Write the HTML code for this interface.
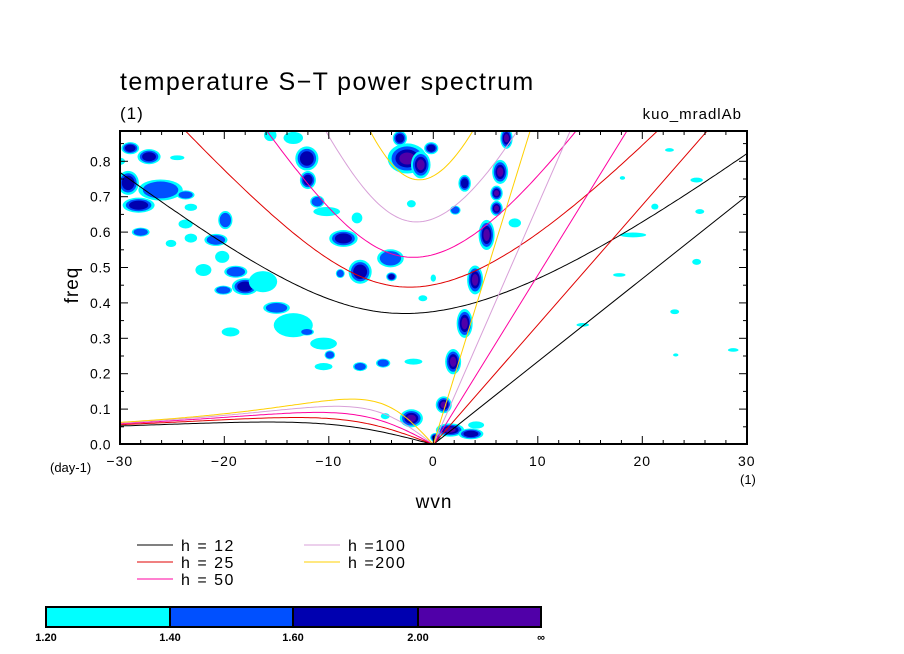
<!DOCTYPE html>
<html><head><meta charset="utf-8"><style>
body{margin:0;background:#fff;}
svg{display:block;font-family:"Liberation Sans",sans-serif;}
</style></head><body>
<svg id="c" width="904" height="654" viewBox="0 0 904 654">
<defs><clipPath id="pc"><rect x="120" y="131" width="627" height="313"/></clipPath></defs>
<text x="120" y="90" font-size="25" letter-spacing="1.4">temperature S−T power spectrum</text>
<text x="120" y="119" font-size="17" letter-spacing="1">(1)</text>
<text x="742" y="119" font-size="15" letter-spacing="1" text-anchor="end">kuo_mradlAb</text>
<g id="blobs" clip-path="url(#pc)"></g>
<g id="curves" clip-path="url(#pc)"></g>
<g id="axes"></g>
<rect x="120" y="131" width="627" height="313" fill="none" stroke="#000" stroke-width="2"/>
<text x="78" y="285" font-size="19" letter-spacing="1" transform="rotate(-90 78 285)" text-anchor="middle">freq</text>
<text x="434" y="508" font-size="19" letter-spacing="1" text-anchor="middle">wvn</text>
<text x="50" y="472" font-size="13">(day-1)</text>
<text x="740" y="484" font-size="13">(1)</text>
<g id="legend"></g>
<g id="cbar"></g>
</svg>
<script>
const NS="http://www.w3.org/2000/svg";
const depths=[12,25,50,100,200];
const depthColors=["#000000","#e00000","#ff00a0","#d8a0d8","#ffd000"];
const xTicks=[-30,-20,-10,0,10,20,30];
const yTicks=[0,0.1,0.2,0.3,0.4,0.5,0.6,0.7,0.8];
const levels=["1.20","1.40","1.60","2.00","∞"];
const levelColors=["#00ffff","#0050ff","#0000b0","#5000a8"];
// blobs: wavenumber, frequency, radius (wvn), radius (freq), level 1..4
const blobW=[-29,-27.2,-24.5,-30,-29.2,-26.1,-28.2,-23.7,-23.2,-28,-19.9,-23.7,-23.2,-20.8,-25.1,-22,-20.2,-18.9,-18,-20.1,-16.3,-15,-13.4,-12.1,-19.4,-10.5,-9.9,-10.5,-7,-4.8,-1.9,-12,-11.1,-10.2,-12.1,-13.4,-15.6,-8.6,-7.3,-7,-8.9,-4.1,-4,-2.5,-3.2,-0.2,-2.1,-1,-2.1,-4.6,-1.2,
 7.0,6.4,3.0,6.05,6.05,2.1,5.1,4.0,3.0,1.9,1.0,1.6,3.6,4.1,0.2,
 22.6,25.2,25.5,19.1,25.2,17.8,14.3,23.2,28.7,23.1,21.2,18.1,7.8,0];
const blobF=[.837,.813,.81,.80,.739,.719,.676,.705,.67,.60,.634,.623,.583,.578,.568,.493,.53,.488,.446,.436,.46,.386,.337,.318,.318,.285,.253,.22,.22,.23,.234,.747,.686,.658,.808,.866,.874,.582,.64,.488,.483,.526,.474,.808,.865,.837,.68,.413,.074,.08,.79,
 .865,.77,.738,.71,.667,.662,.592,.465,.342,.234,.112,.041,.03,.055,.02,
 .832,.747,.658,.592,.516,.479,.338,.253,.267,.375,.672,.753,.626,.47];
const blobRW=[1,1.3,.8,.6,1.2,2.5,1.8,1,.7,1,.8,.8,.7,1.3,.6,.9,.8,1.3,1.5,1,1.6,1.5,2.2,.8,1,1.5,.6,1,.8,.8,1,.9,.8,1.5,1.3,1.1,.7,1.6,.6,1.3,.5,1.5,.6,2.2,.8,.8,.5,.5,1.3,.5,1.1,
 .7,.9,.7,.7,.7,.6,.9,.9,.9,.9,.9,1.6,1.4,.9,.6,
 .5,.7,.5,1.5,.5,.7,.7,.3,.6,.5,.4,.3,.7,.3];
const blobRF=[.02,.025,.008,.012,.04,.035,.025,.015,.012,.015,.03,.015,.015,.02,.012,.02,.02,.02,.028,.015,.035,.02,.04,.012,.015,.02,.015,.012,.015,.015,.01,.03,.02,.015,.04,.02,.02,.028,.018,.04,.015,.03,.015,.05,.025,.02,.012,.01,.03,.01,.045,
 .035,.04,.028,.025,.025,.015,.05,.048,.048,.042,.028,.022,.018,.012,.015,
 .006,.008,.008,.008,.01,.006,.006,.005,.006,.008,.01,.006,.015,.012];
const blobLev=[3,3,1,1,3,2,3,2,1,2,2,1,1,2,1,1,1,2,3,2,1,2,1,2,1,1,2,1,2,2,1,3,2,1,3,1,1,3,1,3,2,2,3,4,3,3,1,1,4,1,4,
 4,4,3,4,4,2,4,4,4,4,4,4,3,1,3,
 1,1,1,1,1,1,1,1,1,1,1,1,1,1];
const X=w=>433.3+w*10.45, Y=f=>444.5-f*354;
function mk(t,a,p){const e=document.createElementNS(NS,t);for(const k in a)e.setAttribute(k,a[k]);(p||document.getElementById("c")).appendChild(e);return e;}
const gb=document.getElementById("blobs");
for(let i=0;i<blobW.length;i++){
  for(let k=0;k<blobLev[i];k++){
    const s=0.85*(1-k*0.2);
    const el=mk("ellipse",{cx:X(blobW[i]),cy:Y(blobF[i]),rx:blobRW[i]*10.45*s,ry:blobRF[i]*354*s,fill:levelColors[k]},gb);
    
    
  }
}
const beta=2.29e-11,a=6.371e6,toCpd=86400/(2*Math.PI);
function solve(c,k,w0){let w=w0;for(let i=0;i<60;i++){const f=w*w*w-c*c*(k*k+3*beta/c)*w-beta*c*c*k;const d=3*w*w-c*c*(k*k+3*beta/c);w-=f/d;}return w;}
const gc=document.getElementById("curves");
depths.forEach((h,j)=>{
  const c=Math.sqrt(9.81*h);
  let ig="",er="";
  for(let n=-30;n<=30.001;n+=0.25){
    const k=n/a;
    const wi=solve(c,k,Math.sqrt(c*c*k*k+3*beta*c));
    ig+=(ig?"L":"M")+X(n).toFixed(1)+","+Y(wi*toCpd).toFixed(1);
    if(n<=0){const w0=n===0?0:-beta*k/(k*k+3*beta/c);const we=n===0?0:solve(c,k,w0);
      er+=(er?"L":"M")+X(n).toFixed(1)+","+Y(we*toCpd).toFixed(1);}
  }
  const kv=30*c/a*toCpd;
  const p1=mk("path",{d:ig,fill:"none",stroke:depthColors[j],"stroke-width":1},gc);
  
  
  const p2=mk("path",{d:er,fill:"none",stroke:depthColors[j],"stroke-width":1},gc);
  
  
  const p3=mk("line",{x1:X(0),y1:Y(0),x2:X(30),y2:Y(kv),stroke:depthColors[j],"stroke-width":1},gc);
  
  
});
const ga=document.getElementById("axes");
for(let w=-30;w<=30;w+=2){const big=w%10===0;
  mk("line",{x1:X(w),y1:444,x2:X(w),y2:444-(big?8:4),stroke:"#000"},ga);
  mk("line",{x1:X(w),y1:131,x2:X(w),y2:131+(big?8:4),stroke:"#000"},ga);}
for(let f=0;f<=0.881;f+=0.05){const big=Math.round(f*100)%10===0;
  mk("line",{x1:120,y1:Y(f),x2:120+(big?8:4),y2:Y(f),stroke:"#000"},ga);
  mk("line",{x1:747,y1:Y(f),x2:747-(big?8:4),y2:Y(f),stroke:"#000"},ga);}
xTicks.forEach(w=>{const t=mk("text",{x:X(w),y:466,"font-size":14,"text-anchor":"middle","letter-spacing":1},ga);t.textContent=(w<0?"−":"")+Math.abs(w);
  
  });
yTicks.forEach(f=>{const t=mk("text",{x:111,y:Y(f)+5,"font-size":14,"text-anchor":"end","letter-spacing":0.5},ga);t.textContent=f.toFixed(1);
  
  });
const gl=document.getElementById("legend");
const legLabels=["h =  12","h =  25","h =  50","h =100","h =200"];
const lx=[137,137,137,304,304],ly=[545,562,579,545,562];
depths.forEach((h,j)=>{
  const l=mk("line",{x1:lx[j],y1:ly[j],x2:lx[j]+36,y2:ly[j],stroke:depthColors[j]},gl);
  
  
  const t=mk("text",{x:lx[j]+44,y:ly[j]+6,"font-size":16,"letter-spacing":1.5,"xml:space":"preserve"},gl);t.textContent=legLabels[j];
  
  
});
const gcb=document.getElementById("cbar");
const cbx=[46,170,293,418,541];
for(let i=0;i<4;i++){const r=mk("rect",{x:cbx[i],y:607,width:cbx[i+1]-cbx[i],height:20,fill:levelColors[i],stroke:"#000","stroke-width":2},gcb);
  
  }
levels.forEach((s,i)=>{const t=mk("text",{x:cbx[i],y:641,"font-size":11,"font-weight":"bold","text-anchor":"middle"},gcb);t.textContent=s;
  
  });
</script>
</body></html>
